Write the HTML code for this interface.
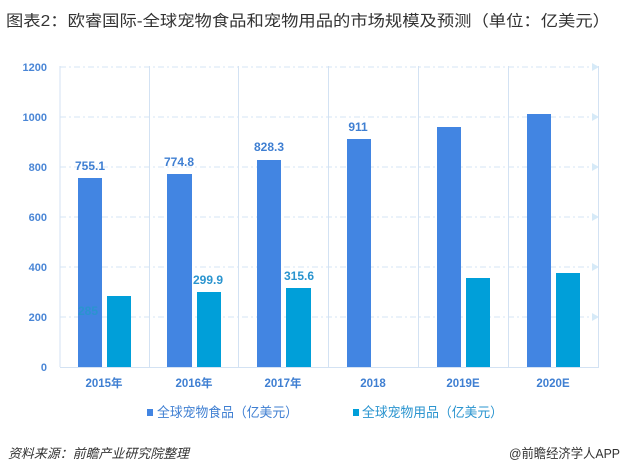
<!DOCTYPE html>
<html><head><meta charset="utf-8"><style>
body{margin:0;background:#fff;}
svg text{font-family:"Liberation Sans","Noto Sans CJK SC",sans-serif;}
</style></head><body>
<svg width="623" height="471" xmlns="http://www.w3.org/2000/svg">
<text x="6" y="26" font-size="15.5" fill="#333" textLength="604" lengthAdjust="spacingAndGlyphs">图表2：欧睿国际-全球宠物食品和宠物用品的市场规模及预测（单位：亿美元）</text>
<g stroke="#d6e6f5" stroke-dasharray="6,3,2,3" stroke-width="1">
<line x1="60" y1="67" x2="594" y2="67"/><line x1="60" y1="117" x2="594" y2="117"/><line x1="60" y1="167" x2="594" y2="167"/><line x1="60" y1="217" x2="594" y2="217"/><line x1="60" y1="267" x2="594" y2="267"/><line x1="60" y1="317" x2="594" y2="317"/>
</g>
<g fill="#d6eaf8"><path d="M592 63 L599 67 L592 71Z"/><path d="M592 113 L599 117 L592 121Z"/><path d="M592 163 L599 167 L592 171Z"/><path d="M592 213 L599 217 L592 221Z"/><path d="M592 263 L599 267 L592 271Z"/><path d="M592 313 L599 317 L592 321Z"/></g>
<g stroke="#d3e2f3" stroke-width="1">
<line x1="60" y1="66" x2="60" y2="367"/><line x1="149.5" y1="66" x2="149.5" y2="367"/><line x1="238.5" y1="66" x2="238.5" y2="367"/><line x1="328.5" y1="66" x2="328.5" y2="367"/><line x1="418.5" y1="66" x2="418.5" y2="367"/><line x1="508.5" y1="66" x2="508.5" y2="367"/><line x1="598.5" y1="66" x2="598.5" y2="367"/>
<line x1="60" y1="367.5" x2="599" y2="367.5"/>
</g>
<g font-size="11" font-weight="bold" fill="#4a86d6" text-anchor="end">
<text x="47" y="71">1200</text><text x="47" y="121">1000</text><text x="47" y="171">800</text><text x="47" y="221">600</text><text x="47" y="271">400</text><text x="47" y="321">200</text><text x="47" y="371">0</text>
</g>
<g fill="#4285e2">
<rect x="78" y="178" width="24" height="189"/><rect x="167" y="174" width="25" height="193"/><rect x="257" y="160" width="24" height="207"/><rect x="347" y="139" width="24" height="228"/><rect x="437" y="127" width="24" height="240"/><rect x="527" y="114" width="24" height="253"/>
</g>
<g fill="#009fd9">
<rect x="107" y="296" width="24" height="71"/><rect x="197" y="292" width="24" height="75"/><rect x="286" y="288" width="25" height="79"/><rect x="466" y="278" width="24" height="89"/><rect x="556" y="273" width="24" height="94"/>
</g>
<g font-size="12" font-weight="bold" fill="#3f7fd2" text-anchor="middle">
<text x="90" y="170">755.1</text><text x="179" y="166">774.8</text><text x="269" y="151">828.3</text><text x="358" y="131">911</text>
</g>
<g font-size="12" font-weight="bold" fill="#2a94cf" text-anchor="middle">
<text x="88" y="315">285</text><text x="208" y="284">299.9</text><text x="299" y="280">315.6</text>
</g>
<g font-size="11.5" font-weight="bold" fill="#3f7fd2" text-anchor="middle">
<text x="104" y="387">2015年</text><text x="194" y="387">2016年</text><text x="283" y="387">2017年</text><text x="373" y="387">2018</text><text x="463" y="387">2019E</text><text x="553" y="387">2020E</text>
</g>
<rect x="147" y="409" width="6" height="7" fill="#4285e2"/>
<text x="157" y="417" font-size="13.5" fill="#3f7fd2" textLength="141" lengthAdjust="spacingAndGlyphs">全球宠物食品（亿美元）</text>
<rect x="353" y="409" width="6" height="7" fill="#009fd9"/>
<text x="362" y="417" font-size="13.5" fill="#2a94cf" textLength="141" lengthAdjust="spacingAndGlyphs">全球宠物用品（亿美元）</text>
<text x="8" y="458" font-size="13" font-style="italic" fill="#333" textLength="181" lengthAdjust="spacingAndGlyphs">资料来源：前瞻产业研究院整理</text>
<text x="509" y="458" font-size="13" fill="#333" textLength="111" lengthAdjust="spacingAndGlyphs">@前瞻经济学人APP</text>
</svg>
</body></html>
